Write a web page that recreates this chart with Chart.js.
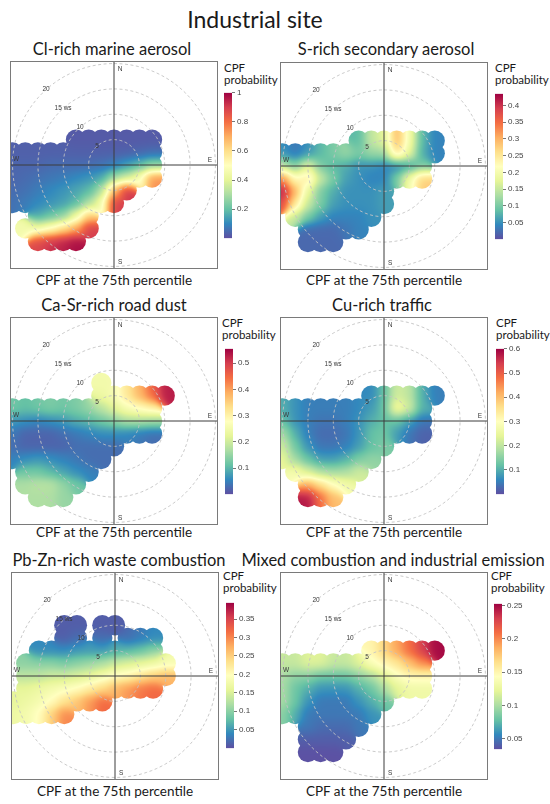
<!DOCTYPE html>
<html><head><meta charset="utf-8">
<script src="https://cdn.jsdelivr.net/npm/chart.js@4.4.1/dist/chart.umd.min.js"></script>
<style>
html,body{margin:0;padding:0;background:#fff;}
body{width:550px;height:804px;position:relative;overflow:hidden;font-family:Lato,"Open Sans",sans-serif;color:#1a1a1a;}
.c{position:absolute;white-space:nowrap;transform:translate(-50%,-50%);line-height:1;}
.l{position:absolute;white-space:nowrap;line-height:12px;font-size:11.5px;}
canvas{position:absolute;display:block;}
</style></head><body>
<script>
const _ = null;
const figureTitle = 'Industrial site';
const panelTitles = ['Cl-rich marine aerosol','S-rich secondary aerosol','Ca-Sr-rich road dust','Cu-rich traffic','Pb-Zn-rich waste combustion','Mixed combustion and industrial emission'];
const captionText = 'CPF at the 75th percentile';
const legendLines = ['CPF','probability'];

// cell centres (wind-speed units, x = east, y = north)
const colX = [-20,-17.5,-15,-12.5,-10,-7.5,-5,-2.5,0,2.5,5,7.5,10];
const rowY = [10,7.5,5,2.5,0,-2.5,-5,-7.5,-10,-12.5,-15];
const ringSpeeds = [5,10,15,20];
const ringLabels = ['5','10','15 ws','20'];
const compassLabels = ['N','E','S','W'];

// CPF probability (percent) per cell, rows follow rowY, columns follow colX
const clRich = [
 [_,_,_,_,_,_,_,_,_,_,_,_,_],
 [_,_,_,_,_,_,_,_,_,_,_,_,_],
 [_,_,_,_,_,2,2,2,2,2,2,2,_],
 [3,3,3,3,3,3,3,3,3,3,4,5,_],
 [4,4,4,5,5,5,5,6,8,13,18,25,_],
 [4,5,6,7,8,10,12,15,28,35,48,75,_],
 [5,6,8,10,12,15,18,30,68,92,_,_,_],
 [6,8,10,12,14,18,30,45,90,_,_,_,_],
 [_,_,15,20,25,42,65,_,_,_,_,_,_],
 [_,45,43,50,60,70,90,_,_,_,_,_,_],
 [_,_,88,92,95,98,_,_,_,_,_,_,_]
];
const sRich = [
 [_,_,_,_,_,_,_,_,_,_,_,_,_],
 [_,_,_,_,_,_,_,_,_,_,_,_,_],
 [_,_,_,_,_,_,8,15,17,30,20,8,4],
 [5,3,5,8,10,12,10,12,12,26,18,7,4],
 [15,10,18,10,8,7,5,5,4,4,6,10,_],
 [33,22,25,15,10,6,5,4,4,10,20,28,_],
 [42,30,18,10,7,5,5,5,6,_,_,_,_],
 [38,25,15,10,6,5,5,5,6,_,_,_,_],
 [_,15,10,6,4,4,4,5,_,_,_,_,_],
 [_,_,2,2,2,3,4,_,_,_,_,_,_],
 [_,_,2,2,2,_,_,_,_,_,_,_,_]
];
const caSrRich = [
 [_,_,_,_,_,_,_,_,_,_,_,_,_],
 [_,_,_,_,_,_,_,25,_,_,_,_,_],
 [_,_,_,_,_,_,_,24,26,32,38,45,53],
 [12,11,12,13,12,13,15,18,22,26,28,30,_],
 [7,6,5,6,7,9,10,12,14,17,17,16,_],
 [4,2,2,2,3,4,5,6,6,5,4,3,_],
 [3,2,2,2,2,3,3,3,3,_,_,_,_],
 [5,6,7,6,5,4,3,3,_,_,_,_,_],
 [_,12,12,10,8,6,5,_,_,_,_,_,_],
 [_,17,18,18,15,12,_,_,_,_,_,_,_],
 [_,_,17,17,15,_,_,_,_,_,_,_,_]
];
const cuRich = [
 [_,_,_,_,_,_,_,_,_,_,_,_,_],
 [_,_,_,_,_,_,_,_,_,_,_,_,_],
 [_,_,_,_,_,_,_,6,12,22,20,10,5],
 [10,7,5,5,5,5,6,8,12,28,22,10,_],
 [12,7,5,4,4,5,7,10,12,12,8,4,_],
 [18,10,5,3,3,4,7,12,13,8,4,2,_],
 [22,13,7,4,4,5,8,12,14,_,_,_,_],
 [25,17,12,8,8,10,14,16,_,_,_,_,_],
 [_,28,22,18,17,18,22,_,_,_,_,_,_],
 [_,_,42,36,30,27,_,_,_,_,_,_,_],
 [_,_,58,48,40,_,_,_,_,_,_,_,_]
];
const pbZnRich = [
 [_,_,_,_,1,1,_,1,1,_,_,_,_],
 [_,_,_,_,1,2,_,2,_,2,3,4,_],
 [_,_,4,4,4,5,5,5,6,7,8,10,_],
 [_,10,10,10,9,10,11,12,14,15,16,17,18],
 [_,13,13,14,14,15,16,18,20,21,23,25,27],
 [_,16,17,18,19,20,22,24,27,29,31,32,_],
 [16,17,18,20,23,26,29,32,_,_,_,_,_],
 [17,18,20,25,30,_,_,_,_,_,_,_,_],
 [_,_,_,_,_,_,_,_,_,_,_,_,_],
 [_,_,_,_,_,_,_,_,_,_,_,_,_],
 [_,_,_,_,_,_,_,_,_,_,_,_,_]
];
const mixedRich = [
 [_,_,_,_,_,_,_,_,_,_,_,_,_],
 [_,_,_,_,_,_,_,_,_,_,_,_,_],
 [_,_,_,_,_,_,_,15,17,19,21,23,25],
 [11,11,12,12,11,11,12,14,15,16,18,20,_],
 [10,9,9,8,8,8,9,10,12,14,15,15,_],
 [10,8,7,6,6,6,7,8,10,12,13,13,_],
 [10,8,6,5,5,5,6,7,8,_,_,_,_],
 [9,7,5,5,5,5,5,6,_,_,_,_,_],
 [_,_,5,4.5,4.5,4.5,5,_,_,_,_,_,_],
 [_,_,4,4,4,4,_,_,_,_,_,_,_],
 [_,_,3.5,3.5,3.5,_,_,_,_,_,_,_,_]
];
const cpfGrids = [clRich, sRich, caSrRich, cuRich, pbZnRich, mixedRich];
const scaleMin = [0, 0, 0, 0, 0, 0.034];
const scaleMax = [1, 0.435, 0.555, 0.6, 0.394, 0.253];
const tickVals = [
 [0.2,0.4,0.6,0.8,1],
 [0.05,0.1,0.15,0.2,0.25,0.3,0.35,0.4],
 [0.1,0.2,0.3,0.4,0.5],
 [0.1,0.2,0.3,0.4,0.5,0.6],
 [0.05,0.1,0.15,0.2,0.25,0.3,0.35],
 [0.05,0.1,0.15,0.2,0.25]
];

// ---- layout / style ----
const AX = 20.5, CELL_R = 2, BOX = 208, BAR_W = 8, BAR_H = 147, LABEL_ANGLE = 42;
const SMOOTH_SIGMA = 1.25;   // ws, colour blending width inside the footprint
const compassPos = [[1.2,18.9],[18.9,1],[1.2,-19.2],[-19.3,1.1]];
const layout = [
 {box:[10,61],  title:[112,49],  cap:[114,281], leg:[224,62],  bar:[224,92]},
 {box:[280,62], title:[386,49],  cap:[384,281], leg:[495,62],  bar:[495,93]},
 {box:[10,317], title:[114,305], cap:[114,533], leg:[222,317], bar:[225,348]},
 {box:[280,317],title:[382,305], cap:[384,533], leg:[496,317], bar:[496,348]},
 {box:[11,572], title:[119,560], cap:[115,792], leg:[223,570], bar:[226,602]},
 {box:[280,572],title:[393,560], cap:[384,792], leg:[491,570], bar:[494,603]}
];

function hexToRgb(h){return [parseInt(h.slice(1,3),16),parseInt(h.slice(3,5),16),parseInt(h.slice(5,7),16)];}
const spectral = ['#5E4FA2','#3288BD','#66C2A5','#ABDDA4','#E6F598','#FFFFBF','#FEE08B','#FDAE61','#F46D43','#D53E4F','#9E0142'].map(hexToRgb);
function cpfRGB(t){
  t = Math.max(0, Math.min(1, t));
  const n = spectral.length - 1, p = t * n, i = Math.min(n - 1, Math.floor(p)), f = p - i;
  const a = spectral[i], b = spectral[i + 1];
  return a.map((v, j) => Math.round(v + (b[j] - v) * f));
}
function cpfColour(t){ return 'rgb(' + cpfRGB(t).join(',') + ')'; }
function cellsOf(grid){
  const pts = [];
  grid.forEach((row, r) => row.forEach((v, c) => { if (v !== null) pts.push({x: colX[c], y: rowY[r], v: v / 100}); }));
  return pts;
}
function ringPoints(r){
  const pts = [];
  for (let a = 0; a <= 360; a += 3) { const t = a * Math.PI / 180; pts.push({x: r * Math.sin(t), y: r * Math.cos(t)}); }
  return pts;
}
function addText(cls, txt, x, y, size){
  const d = document.createElement('div');
  d.className = cls; d.textContent = txt;
  d.style.left = x + 'px'; d.style.top = y + 'px'; d.style.fontSize = size + 'px';
  document.body.appendChild(d);
}
function addCanvas(x, y, w, h){
  const cv = document.createElement('canvas');
  cv.width = w; cv.height = h;
  cv.style.left = x + 'px'; cv.style.top = y + 'px'; cv.style.width = w + 'px'; cv.style.height = h + 'px';
  document.body.appendChild(cv);
  return cv;
}

// re-shades the footprint drawn by the cell discs with a smoothly blended CPF value
const smoothField = {
  id: 'smoothField',
  afterDatasetDraw(chart, args){
    const ds = chart.data.datasets[args.index];
    if (!ds.cpfRange) return;
    const {ctx, canvas, scales: {x, y}} = chart;
    const dpr = chart.currentDevicePixelRatio || 1;
    const W = canvas.width, H = canvas.height;
    const img = ctx.getImageData(0, 0, W, H), d = img.data;
    const pts = ds.data, lo = ds.cpfRange[0], hi = ds.cpfRange[1];
    const s2 = 2 * SMOOTH_SIGMA * SMOOTH_SIGMA;
    for (let py = 0; py < H; py++) {
      const vy = y.getValueForPixel((py + 0.5) / dpr);
      for (let px = 0; px < W; px++) {
        const idx = (py * W + px) * 4;
        if (d[idx + 3] === 0) continue;
        const vx = x.getValueForPixel((px + 0.5) / dpr);
        let sw = 0, sv = 0;
        for (let i = 0; i < pts.length; i++) {
          const dx = pts[i].x - vx, dy = pts[i].y - vy, q = dx * dx + dy * dy;
          if (q > 30) continue;
          const w = Math.exp(-q / s2);
          sw += w; sv += w * pts[i].v;
        }
        if (sw <= 0) continue;
        const c = cpfRGB((sv / sw - lo) / (hi - lo));
        d[idx] = c[0]; d[idx + 1] = c[1]; d[idx + 2] = c[2];
      }
    }
    ctx.putImageData(img, 0, 0);
  }
};
const polarDecor = {
  id: 'polarDecor',
  afterDatasetsDraw(chart){
    const {ctx, scales: {x, y}} = chart;
    ctx.save();
    ctx.fillStyle = '#3a3a3a';
    ctx.font = '6.5px "Liberation Sans", Arial, sans-serif';
    ctx.textAlign = 'center'; ctx.textBaseline = 'middle';
    const a = LABEL_ANGLE * Math.PI / 180;
    ringSpeeds.forEach((r, k) => ctx.fillText(ringLabels[k], x.getPixelForValue(-r * Math.sin(a)), y.getPixelForValue(r * Math.cos(a))));
    compassLabels.forEach((s, k) => ctx.fillText(s, x.getPixelForValue(compassPos[k][0]), y.getPixelForValue(compassPos[k][1])));
    ctx.restore();
  },
  afterDraw(chart){
    const {ctx, chartArea: a} = chart;
    ctx.save(); ctx.strokeStyle = '#7a7a7a'; ctx.lineWidth = 1;
    ctx.strokeRect(a.left + 0.5, a.top + 0.5, a.width - 1, a.height - 1);
    ctx.restore();
  }
};

function polarChart(k){
  const L = layout[k];
  const cv = addCanvas(L.box[0], L.box[1], BOX, BOX);
  const lo = scaleMin[k], hi = scaleMax[k];
  const rad = c => c.chart.scales.x.getPixelForValue(CELL_R) - c.chart.scales.x.getPixelForValue(0);
  const datasets = [{
    data: cellsOf(cpfGrids[k]), order: 10, cpfRange: [lo, hi], clip: 0, showLine: false,
    pointRadius: rad, pointHoverRadius: rad,
    pointBackgroundColor: c => (c.raw ? cpfColour((c.raw.v - lo) / (hi - lo)) : '#888'),
    pointBorderWidth: 0, pointBorderColor: 'rgba(0,0,0,0)'
  }];
  ringSpeeds.forEach(r => datasets.push({data: ringPoints(r), order: 2, showLine: true, borderColor: '#c4c4c4', borderWidth: 0.9, borderDash: [3, 2.5], pointRadius: 0, tension: 0}));
  datasets.push({data: [{x: -AX, y: 0}, {x: AX, y: 0}], order: 1, showLine: true, borderColor: '#3c3c3c', borderWidth: 1, pointRadius: 0});
  datasets.push({data: [{x: 0, y: -AX}, {x: 0, y: AX}], order: 1, showLine: true, borderColor: '#3c3c3c', borderWidth: 1, pointRadius: 0});
  new Chart(cv, {
    type: 'scatter',
    data: {datasets},
    options: {
      responsive: false, animation: false, events: [],
      layout: {padding: 0},
      plugins: {legend: {display: false}, tooltip: {enabled: false}},
      scales: {
        x: {type: 'linear', min: -AX, max: AX, display: false},
        y: {type: 'linear', min: -AX, max: AX, display: false}
      }
    },
    plugins: [smoothField, polarDecor]
  });
}
function barGradient(chart){
  const a = chart.chartArea;
  if (!a) return '#888';
  const g = chart.ctx.createLinearGradient(0, a.bottom, 0, a.top);
  for (let i = 0; i <= 50; i++) g.addColorStop(i / 50, cpfColour(i / 50));
  return g;
}
function colourBar(k){
  const L = layout[k];
  const cv = addCanvas(L.bar[0], L.bar[1] - 6, BAR_W + 30, BAR_H + 12);
  new Chart(cv, {
    type: 'bar',
    data: {labels: [''], datasets: [{data: [[scaleMin[k], scaleMax[k]]], backgroundColor: c => barGradient(c.chart), borderWidth: 0, barPercentage: 1, categoryPercentage: 1, borderSkipped: false}]},
    options: {
      responsive: false, animation: false, events: [],
      layout: {padding: {top: 6, bottom: 6, left: 0, right: 0}},
      plugins: {legend: {display: false}, tooltip: {enabled: false}},
      scales: {
        x: {display: false},
        y: {
          position: 'right', min: scaleMin[k], max: scaleMax[k],
          afterBuildTicks: s => { s.ticks = tickVals[k].map(v => ({value: v})); },
          afterFit: s => { s.width = 30; },
          grid: {drawOnChartArea: false, drawTicks: true, tickLength: 3, color: '#555', lineWidth: 0.8},
          border: {display: false},
          ticks: {font: {size: 8, family: '"Liberation Sans", Arial, sans-serif'}, color: '#444', padding: 2, autoSkip: false, callback: v => String(v)}
        }
      }
    }
  });
}

addText('c', figureTitle, 255, 19, 23);
panelTitles.forEach((t, k) => {
  const L = layout[k];
  addText('c', t, L.title[0], L.title[1], 16.5);
  addText('c', captionText, L.cap[0], L.cap[1], 13.5);
  addText('l', legendLines[0], L.leg[0], L.leg[1], 11.5);
  addText('l', legendLines[1], L.leg[0], L.leg[1] + 12, 11.5);
  polarChart(k);
  colourBar(k);
});
</script>
</body></html>
